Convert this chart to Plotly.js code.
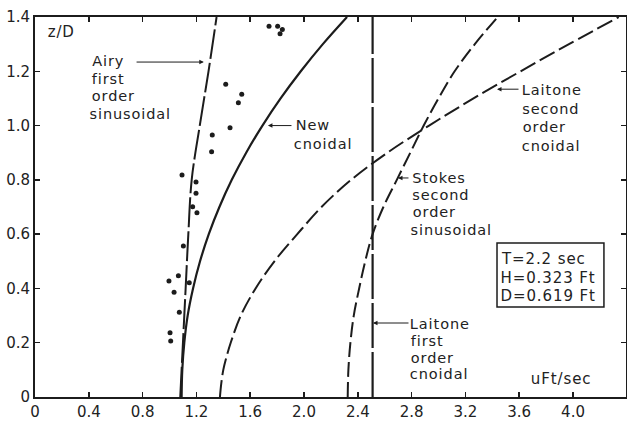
<!DOCTYPE html>
<html>
<head>
<meta charset="utf-8">
<script src="https://cdn.plot.ly/plotly-3.0.1.min.js"></script>
<style>
  html, body { margin: 0; padding: 0; background: #fff; }
  #chart { width: 627px; height: 423px; }
  /* open, widely tracked lettering for the curve labels */
  #chart .annotation-text { letter-spacing: 0.9px; }
</style>
</head>
<body>
<div id="chart"></div>
<script>
// Velocity profiles u (ft/sec) against relative depth z/D
const airyZ = [0, 0.2, 0.4, 0.6, 0.8, 1.0, 1.2, 1.4];
const airyU = [1.08, 1.10, 1.12, 1.14, 1.165, 1.225, 1.29, 1.35];

const newCnoidalZ = [0, 0.1, 0.2, 0.3, 0.4, 0.5, 0.6, 0.7, 0.8, 0.9, 1.0, 1.1, 1.2, 1.3, 1.4];
const newCnoidalU = [1.09, 1.095, 1.11, 1.135, 1.175, 1.227, 1.292, 1.371, 1.463, 1.57, 1.691, 1.826, 1.976, 2.14, 2.32];

const laitone2Z = [0, 0.05, 0.1, 0.15, 0.2, 0.3, 0.4, 0.5, 0.6, 0.7, 0.8, 0.9, 1.0, 1.1, 1.2, 1.3, 1.4];
const laitone2U = [1.375, 1.385, 1.40, 1.425, 1.455, 1.53, 1.64, 1.78, 1.95, 2.13, 2.35, 2.62, 2.93, 3.26, 3.61, 3.97, 4.34];

const stokesZ = [0, 0.1, 0.2, 0.3, 0.4, 0.5, 0.6, 0.7, 0.8, 0.9, 1.0, 1.1, 1.2, 1.3, 1.4];
const stokesU = [2.325, 2.33, 2.345, 2.37, 2.41, 2.455, 2.51, 2.59, 2.69, 2.79, 2.89, 3.00, 3.12, 3.27, 3.44];

const laitone1Z = [0, 1.4];
const laitone1U = [2.51, 2.51];

// Measured velocities
const measuredU = [1.740, 1.804, 1.839, 1.822, 1.418, 1.537, 1.512, 1.450, 1.318, 1.313,
                   1.093, 1.197, 1.197, 1.172, 1.204, 1.103, 1.066, 0.996, 1.147, 1.034,
                   1.073, 1.004, 1.009];
const measuredZ = [1.366, 1.366, 1.354, 1.338, 1.152, 1.115, 1.084, 0.992, 0.965, 0.904,
                   0.818, 0.792, 0.751, 0.701, 0.679, 0.556, 0.447, 0.427, 0.421, 0.386,
                   0.312, 0.237, 0.206];

const xTickVals = [0, 0.4, 0.8, 1.2, 1.6, 2.0, 2.4, 2.8, 3.2, 3.6, 4.0];
const xTickText = ['0', '0.4', '0.8', '1.2', '1.6', '2.0', '2.4', '2.8', '3.2', '3.6', '4.0'];
const yTickVals = [0, 0.2, 0.4, 0.6, 0.8, 1.0, 1.2, 1.4];
const yTickText = ['0', '0.2', '0.4', '0.6', '0.8', '1.0', '1.2', '1.4'];

const INK = '#1c1c1c';
const FONT = 'DejaVu Sans';

function curve(u, z, dash, width) {
  return {
    x: u, y: z, type: 'scatter', mode: 'lines',
    line: { color: INK, width: width, dash: dash, shape: 'spline', smoothing: 1 },
    hoverinfo: 'skip', showlegend: false
  };
}

const traces = [
  curve(airyU, airyZ, '30px,4px', 2),
  curve(newCnoidalU, newCnoidalZ, 'solid', 2.2),
  curve(laitone2U, laitone2Z, '17px,5px', 2),
  curve(stokesU, stokesZ, '15px,5px', 2),
  curve(laitone1U, laitone1Z, '45px,4px', 2.2),
  {
    x: measuredU, y: measuredZ, type: 'scatter', mode: 'markers',
    marker: { color: INK, size: 5 }, hoverinfo: 'skip', showlegend: false
  }
];

// Multi-line label placed line by line so the leading stays tight
function label(lines, x, y, gap, size) {
  return lines.map((t, i) => ({
    text: t, x: x, y: y, xref: 'x', yref: 'y',
    xanchor: 'left', yanchor: 'middle', yshift: -i * gap,
    showarrow: false, font: { family: FONT, size: size || 14.5, color: '#222' }
  }));
}

function leader(tipX, tipY, tailX) {
  return {
    text: '', x: tipX, y: tipY, ax: tailX, ay: tipY, axref: 'x', ayref: 'y',
    xref: 'x', yref: 'y', showarrow: true, arrowhead: 2, arrowsize: 0.9,
    arrowwidth: 1, arrowcolor: INK
  };
}

const annotations = [].concat(
  label(['Airy', 'first', 'order', 'sinusoidal'], 0.424, 1.238, 17.7),
  label(['New', 'cnoidal'], 1.933, 1.002, 18.5),
  label(['Laitone', 'second', 'order', 'cnoidal'], 3.628, 1.131, 18.6),
  label(['Stokes', 'second', 'order', 'sinusoidal'], 2.810, 0.807, 17.2),
  label(['Laitone', 'first', 'order', 'cnoidal'], 2.796, 0.269, 16.8),
  label(['T=2.2 sec', 'H=0.323 Ft', 'D=0.619 Ft'], 3.48, 0.508, 18.5, 15),
  label(['z/D'], 0.089, 1.345, 0, 15),
  label(['uFt/sec'], 3.695, 0.066, 0, 15),
  [
    leader(1.255, 1.234, 0.744),
    leader(1.732, 1.0, 1.918),
    leader(3.435, 1.134, 3.606),
    leader(2.699, 0.807, 2.788),
    leader(2.513, 0.2726, 2.788)
  ]
);

const axisCommon = {
  showline: true, linecolor: INK, linewidth: 2, mirror: 'ticks',
  ticks: 'inside', ticklen: 5, tickwidth: 1.5, tickcolor: INK,
  showgrid: false, zeroline: false,
  tickfont: { family: FONT, size: 15, color: '#222' }
};

const layout = {
  width: 627, height: 423,
  margin: { l: 35, r: 1, t: 17, b: 26 },
  paper_bgcolor: '#fff', plot_bgcolor: '#fff',
  showlegend: false,
  xaxis: Object.assign({}, axisCommon, {
    range: [0, 4.394], tickmode: 'array', tickvals: xTickVals, ticktext: xTickText
  }),
  yaxis: Object.assign({}, axisCommon, {
    range: [0, 1.4], tickmode: 'array', tickvals: yTickVals, ticktext: yTickText
  }),
  shapes: [{
    type: 'rect', xref: 'x', yref: 'y', x0: 3.435, x1: 4.23, y0: 0.332, y1: 0.567,
    line: { color: INK, width: 1.5 }
  }],
  annotations: annotations
};

Plotly.newPlot('chart', traces, layout, { staticPlot: true, displayModeBar: false });
</script>
</body>
</html>
